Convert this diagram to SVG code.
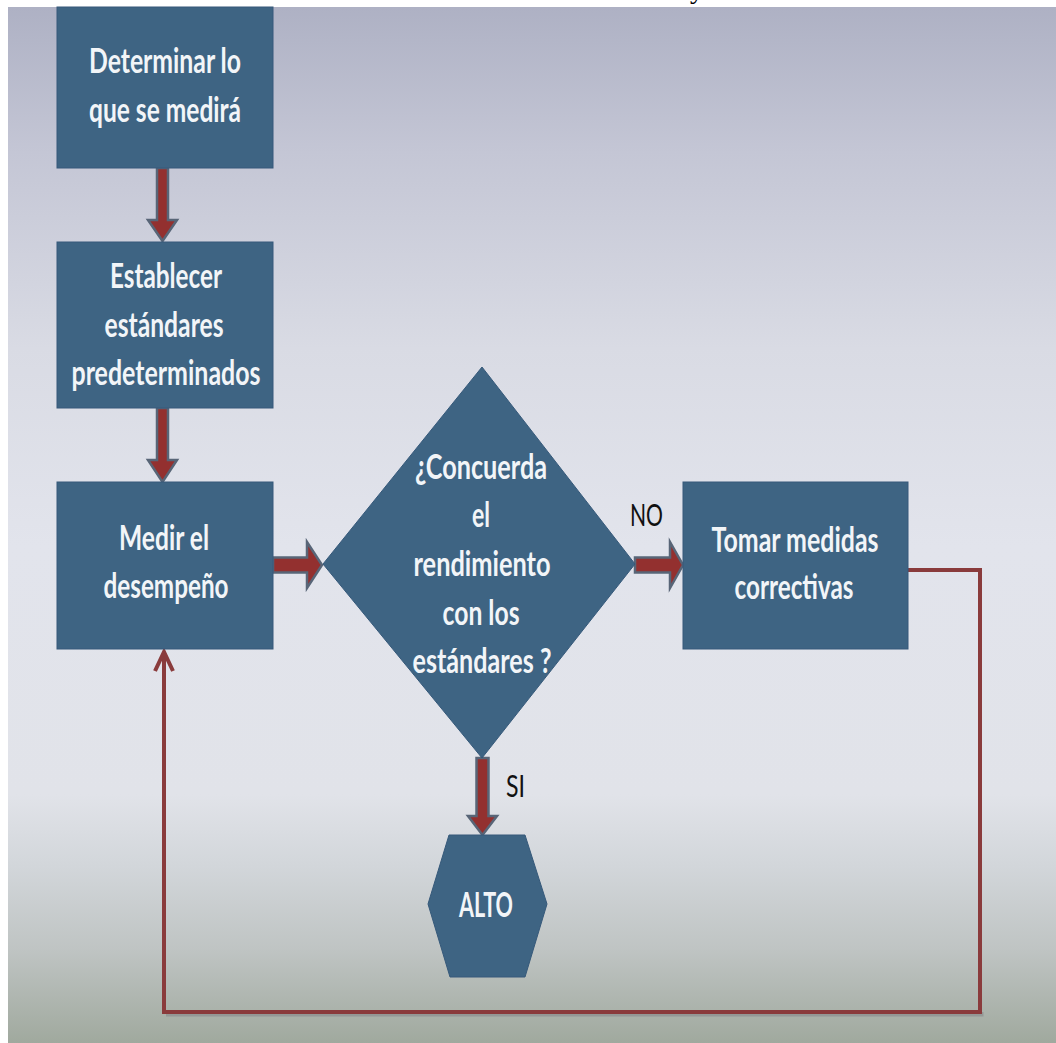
<svg xmlns="http://www.w3.org/2000/svg" width="1056" height="1043" viewBox="0 0 1056 1043">
<defs>
<linearGradient id="bg" x1="0" y1="7" x2="0" y2="1043" gradientUnits="userSpaceOnUse">
<stop offset="0" stop-color="#aeb1c4"/>
<stop offset="0.14" stop-color="#c4c6d5"/>
<stop offset="0.33" stop-color="#d9dbe4"/>
<stop offset="0.52" stop-color="#e2e4ec"/>
<stop offset="0.76" stop-color="#e1e3e9"/>
<stop offset="0.83" stop-color="#d2d6da"/>
<stop offset="0.91" stop-color="#bfc4c3"/>
<stop offset="1" stop-color="#a0a99e"/>
</linearGradient>
<style>
.node{fill:#3e6483;stroke:#36597a;stroke-width:1}
.t{font-family:Lato,"Liberation Sans",sans-serif;font-weight:700;font-size:34px;fill:#f2f5f8;text-anchor:middle}
.lbl{font-family:Lato,"Liberation Sans",sans-serif;font-weight:400;font-size:31px;fill:#111;text-anchor:middle}
.arr{fill:#93302f;stroke:#586577;stroke-width:2.5;stroke-linejoin:miter}
.loop{fill:none;stroke:#8a3b3c;stroke-width:4;stroke-linejoin:miter}
.shadow{fill:none;stroke:#6d6a72;stroke-width:3;opacity:0.35}
</style>
</defs>
<rect x="0" y="0" width="1056" height="1043" fill="#ffffff"/>
<rect x="8" y="7" width="1048" height="1036" fill="url(#bg)"/>
<text x="690" y="-2" font-family="Liberation Serif,serif" font-size="28" fill="#000">y</text>

<g id="connectors">
<polygon class="arr" points="157,168 168,168 168,220 177,220 162.5,241 148,220 157,220"/>
<polygon class="arr" points="157,408 168,408 168,460 177,460 162.5,482 148,460 157,460"/>
<polygon class="arr" points="273,557.5 307,557.5 307,542 322,565 307,588 307,572.5 273,572.5"/>
<polygon class="arr" points="635,557.5 670,557.5 670,542 683,565 670,588 670,572.5 635,572.5"/>
<polygon class="arr" points="476.5,758 488.5,758 488.5,816 497,816 482.5,835 468,816 476.5,816"/>
<polyline class="shadow" points="166,1015 982,1015 982,1012"/>
<polyline class="loop" points="908,570 980,570 980,1012 164,1012 164,652"/>
<polyline class="loop" points="155,671 164,652 173,671"/>
<text class="lbl" x="646.5" y="526" textLength="33" lengthAdjust="spacingAndGlyphs">NO</text>
<text class="lbl" x="515.5" y="797" textLength="19" lengthAdjust="spacingAndGlyphs">SI</text>
</g>

<g id="n1">
<rect class="node" x="57" y="7" width="216" height="161"/>
<text class="t" x="165" y="73" textLength="152" lengthAdjust="spacingAndGlyphs">Determinar lo</text>
<text class="t" x="165" y="122" textLength="152" lengthAdjust="spacingAndGlyphs">que se medirá</text>
</g>

<g id="n2">
<rect class="node" x="57" y="242" width="216" height="166"/>
<text class="t" x="166" y="288" textLength="112" lengthAdjust="spacingAndGlyphs">Establecer</text>
<text class="t" x="164" y="337" textLength="119" lengthAdjust="spacingAndGlyphs">estándares</text>
<text class="t" x="166" y="385" textLength="189" lengthAdjust="spacingAndGlyphs">predeterminados</text>
</g>

<g id="n3">
<rect class="node" x="57" y="482" width="216" height="167"/>
<text class="t" x="164" y="550" textLength="90" lengthAdjust="spacingAndGlyphs">Medir el</text>
<text class="t" x="166" y="598" textLength="125" lengthAdjust="spacingAndGlyphs">desempeño</text>
</g>

<g id="n4">
<polygon class="node" points="482,367 635,564 482,758 323,564"/>
<text class="t" x="481" y="479" textLength="132" lengthAdjust="spacingAndGlyphs">¿Concuerda</text>
<text class="t" x="481" y="527" textLength="18" lengthAdjust="spacingAndGlyphs">el</text>
<text class="t" x="482" y="576" textLength="137" lengthAdjust="spacingAndGlyphs">rendimiento</text>
<text class="t" x="481" y="625" textLength="77" lengthAdjust="spacingAndGlyphs">con los</text>
<text class="t" x="482" y="673" textLength="139" lengthAdjust="spacingAndGlyphs">estándares ?</text>
</g>

<g id="n5">
<rect class="node" x="683" y="482" width="225" height="167"/>
<text class="t" x="795" y="552" textLength="167" lengthAdjust="spacingAndGlyphs">Tomar medidas</text>
<text class="t" x="794" y="599" textLength="119" lengthAdjust="spacingAndGlyphs">correctivas</text>
</g>

<g id="n6">
<polygon class="node" points="449,835 525,835 547,904 525,977 450,977 428,904"/>
<text class="t" x="486" y="917" font-size="31" textLength="54" lengthAdjust="spacingAndGlyphs">ALTO</text>
</g>
</svg>
